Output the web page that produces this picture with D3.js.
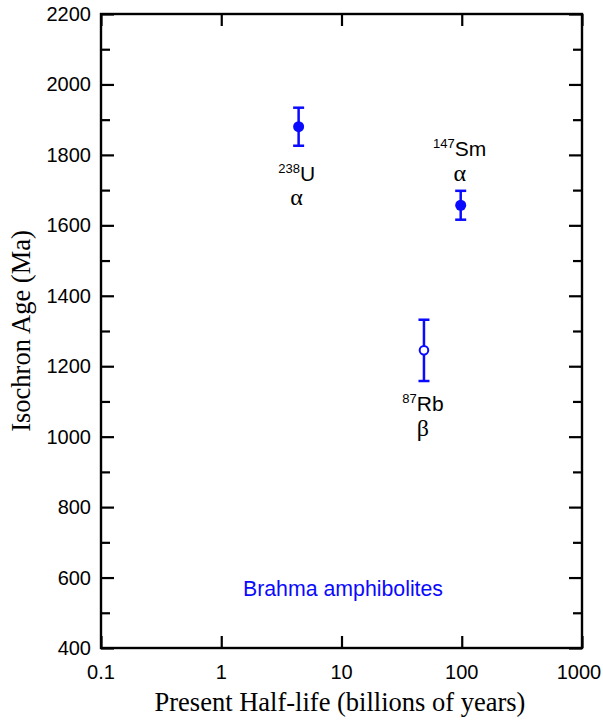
<!DOCTYPE html>
<html><head><meta charset="utf-8">
<script src="https://cdn.jsdelivr.net/npm/d3@7"></script>
<style>body{margin:0;background:#fff}</style>
</head><body>
<svg id="c" width="603" height="720"></svg>
<script>
const isotopes = ["238U", "147Sm", "87Rb"];
const massNumbers = ["238", "147", "87"];
const elements = ["U", "Sm", "Rb"];
const decayModes = ["α", "α", "β"];
const halfLives = [4.4, 98, 48.5];
const ages = [1880, 1657, 1245];
const errors = [54, 41, 87];
const filled = [true, true, false];
const xTickValues = [0.1, 1, 10, 100, 1000];
const xTickLabels = ["0.1", "1", "10", "100", "1000"];
const yTickValues = [400, 600, 800, 1000, 1200, 1400, 1600, 1800, 2000, 2200];
const yMinorValues = [500, 700, 900, 1100, 1300, 1500, 1700, 1900, 2100];

const svg = d3.select("#c");
const L = 101, R = 582, T = 14, B = 648;
const x = d3.scaleLog().domain([0.1, 1000]).range([L, R]);
const y = d3.scaleLinear().domain([400, 2200]).range([B, T]);
const blue = "#0a0aff";
const sans = "'Liberation Sans', Arial, sans-serif";
const serif = "'Liberation Serif', 'Times New Roman', serif";

function ax(gen, tx, ty, vals, size) {
  const g = svg.append("g").attr("transform", `translate(${tx},${ty})`)
    .call(gen.tickValues(vals).tickSize(size).tickFormat(""));
  g.select(".domain").remove();
  g.selectAll(".tick line").attr("stroke", "#000").attr("stroke-width", 2.2);
}
ax(d3.axisRight(y), L, 0, yTickValues, 13);
ax(d3.axisRight(y), L, 0, yMinorValues, 9);
ax(d3.axisLeft(y), R, 0, yTickValues, 13);
ax(d3.axisLeft(y), R, 0, yMinorValues, 9);
ax(d3.axisTop(x), 0, B, xTickValues, 12);
ax(d3.axisBottom(x), 0, T, xTickValues, 12);

// frame
svg.append("rect").attr("x", L).attr("y", T).attr("width", R - L).attr("height", B - T)
  .attr("fill", "none").attr("stroke", "#000").attr("stroke-width", 2.4);

// tick labels
svg.append("g").selectAll("text").data(yTickValues).join("text")
  .attr("x", L - 10).attr("y", d => y(d) + 7)
  .attr("text-anchor", "end").attr("font-family", sans).attr("font-size", 20)
  .text(d => d);
svg.append("g").selectAll("text").data(xTickValues).join("text")
  .attr("x", (d, i) => x(d) + (i === 4 ? -3 : 0))
  .attr("y", B + 31)
  .attr("text-anchor", "middle").attr("font-family", sans).attr("font-size", 20)
  .text((d, i) => xTickLabels[i]);

// axis titles
svg.append("text").attr("x", 340).attr("y", 711).attr("text-anchor", "middle")
  .attr("font-family", serif).attr("font-size", 26.5).text("Present Half-life (billions of years)");
svg.append("text").attr("transform", `translate(30,${(T + B) / 2}) rotate(-90)`)
  .attr("text-anchor", "middle").attr("font-family", serif).attr("font-size", 26.5)
  .text("Isochron Age (Ma)");

// data
const data = isotopes.map((n, i) => ({ n, hl: halfLives[i], age: ages[i], err: errors[i], filled: filled[i], mass: massNumbers[i], el: elements[i], mode: decayModes[i] }));
const pts = svg.append("g").selectAll("g").data(data).join("g");
pts.append("line").attr("x1", d => x(d.hl)).attr("x2", d => x(d.hl))
  .attr("y1", d => y(d.age + d.err)).attr("y2", d => y(d.age - d.err))
  .attr("stroke", blue).attr("stroke-width", 2.5);
pts.append("line").attr("x1", d => x(d.hl) - 5.5).attr("x2", d => x(d.hl) + 5.5)
  .attr("y1", d => y(d.age + d.err)).attr("y2", d => y(d.age + d.err))
  .attr("stroke", blue).attr("stroke-width", 2.5);
pts.append("line").attr("x1", d => x(d.hl) - 5.5).attr("x2", d => x(d.hl) + 5.5)
  .attr("y1", d => y(d.age - d.err)).attr("y2", d => y(d.age - d.err))
  .attr("stroke", blue).attr("stroke-width", 2.5);
pts.append("circle").attr("cx", d => x(d.hl)).attr("cy", d => y(d.age))
  .attr("r", d => d.filled ? 5.5 : 4.3)
  .attr("fill", d => d.filled ? blue : "#fff").attr("stroke", blue).attr("stroke-width", d => d.filled ? 0 : 2);

// isotope labels relative to point
const labelOff = { "238U": [-2, 54, 78], "147Sm": [-1, -49, -24], "87Rb": [-1, 61, 86] };
const lab = svg.append("g").selectAll("g").data(data).join("g");
lab.append("text").attr("x", d => x(d.hl) + labelOff[d.n][0])
  .attr("y", d => y(d.age) + labelOff[d.n][1])
  .attr("text-anchor", "middle").attr("font-family", sans).attr("font-size", 21)
  .call(t => {
    t.append("tspan").attr("font-size", 13).attr("dy", -8).text(d => d.mass);
    t.append("tspan").attr("dy", 8).text(d => d.el);
  });
lab.append("text").attr("x", d => x(d.hl) + labelOff[d.n][0])
  .attr("y", d => y(d.age) + labelOff[d.n][2])
  .attr("text-anchor", "middle").attr("font-family", serif).attr("font-size", 24)
  .text(d => d.mode);

svg.append("text").attr("x", 343).attr("y", 596).attr("text-anchor", "middle")
  .attr("font-family", sans).attr("font-size", 21.3).attr("fill", blue).text("Brahma amphibolites");
</script>
</body></html>
